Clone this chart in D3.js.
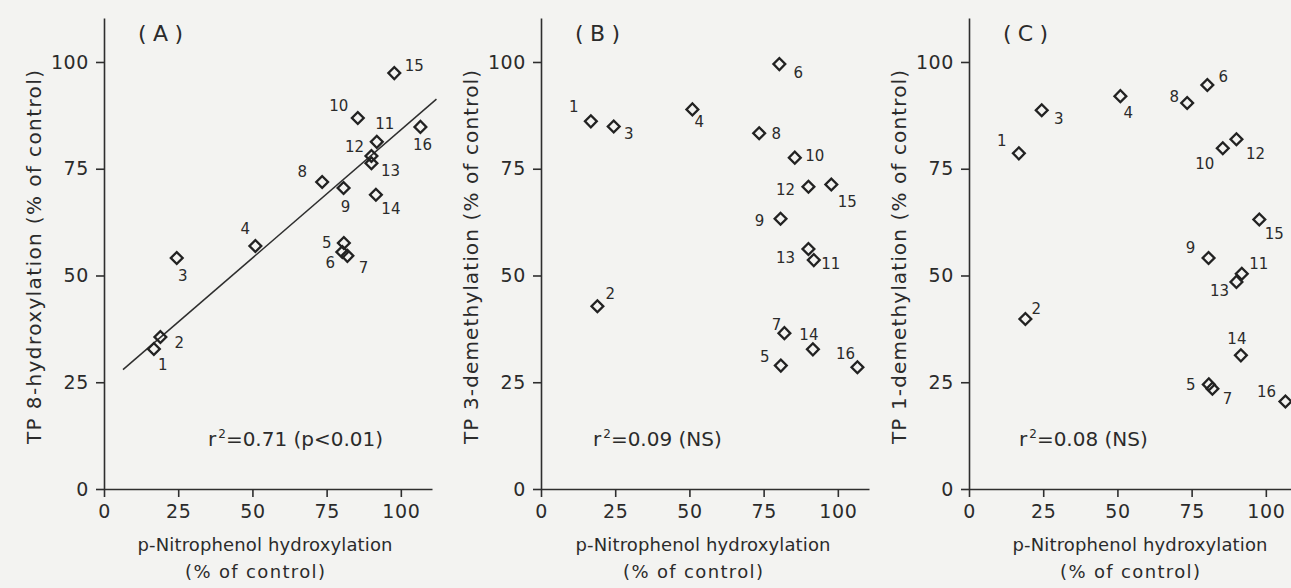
<!DOCTYPE html>
<html>
<head>
<meta charset="utf-8">
<script src="https://cdn.jsdelivr.net/npm/d3@7"></script>
<style>
  body { margin: 0; background: #f3f3f1; }
  svg text { font-family: "DejaVu Sans", sans-serif; fill: #2b2b2b; }
  .axis path, .axis line { stroke: #2e2e2e; stroke-width: 1.6; }
</style>
</head>
<body>
<svg id="chart" width="1291" height="588"></svg>
<script>
// compound numbers 1..16
var compounds = ["1","2","3","4","5","6","7","8","9","10","11","12","13","14","15","16"];

// p-Nitrophenol hydroxylation (% of control), shared x of all panels
var pnpHydroxylation = [16.8, 19.0, 24.5, 51.0, 80.8, 80.3, 82.0, 73.5, 80.7, 85.5, 91.9, 90.1, 90.1, 91.6, 97.8, 106.6];

// TP metabolism (% of control)
var tp8Hydroxylation = [32.8, 35.6, 54.1, 56.9, 57.6, 55.5, 54.6, 71.9, 70.5, 86.9, 81.3, 78.0, 76.3, 68.9, 97.4, 84.8];
var tp3Demethylation = [86.1, 42.8, 84.9, 88.9, 28.9, 99.5, 36.5, 83.3, 63.3, 77.6, 53.6, 70.8, 56.2, 32.7, 71.3, 28.5];
var tp1Demethylation = [78.6, 39.8, 88.7, 92.0, 24.5, 94.6, 23.5, 90.4, 54.1, 79.8, 50.4, 81.9, 48.5, 31.3, 63.1, 20.5];

var xTicks = [0, 25, 50, 75, 100];
var yTicks = [0, 25, 50, 75, 100];

var panelLetters = ["(A)", "(B)", "(C)"];
var yTitles = ["TP 8-hydroxylation (% of control)", "TP 3-demethylation (% of control)", "TP 1-demethylation (% of control)"];
var xTitle = ["p-Nitrophenol hydroxylation", "(% of control)"];
var rSquared = ["0.71", "0.09", "0.08"];
var significance = ["(p<0.01)", "(NS)", "(NS)"];

// regression line of panel A
var fitA = { intercept: 24.1, slope: 0.60, from: 6.4, to: 112 };

// where each point number sits relative to its marker (px)
var labelOffsets = [
  [[9,16],[19,6],[6,18],[-10,-17],[-17,0],[-12,11],[16,12],[-20,-10],[2,19],[-19,-12],[8,-18],[-17,-9],[19,7],[15,14],[20,-7],[2,18]],
  [[-17,-15],[13,-13],[15,7],[7,12],[-16,-9],[19,8],[-8,-9],[17,0],[-21,2],[20,-2],[17,3],[-23,3],[-23,9],[-4,-15],[16,17],[-12,-14]],
  [[-17,-13],[11,-10],[17,8],[8,16],[-18,0],[16,-8],[15,10],[-13,-6],[-18,-10],[-18,15],[17,-10],[19,14],[-17,9],[-4,-17],[15,14],[-19,-10]]
];

var panels = [
  { x0: 104, values: tp8Hydroxylation, fit: fitA, titleOff: 161, rx: 104 },
  { x0: 541, values: tp3Demethylation, fit: null, titleOff: 162, rx: 52 },
  { x0: 969, values: tp1Demethylation, fit: null, titleOff: 171, rx: 50 }
];

var svg = d3.select("#chart");
var y = d3.scaleLinear().domain([0, 110.3]).range([489, 18]);

var diamond = d3.symbol().type(d3.symbolSquare).size(70);

panels.forEach(function(p, i) {
  var x = d3.scaleLinear().domain([0, 110.5]).range([p.x0, p.x0 + 328]);
  var g = svg.append("g");

  // axes
  var xa = g.append("g").attr("class", "axis")
    .attr("transform", "translate(0," + y(0) + ")")
    .call(d3.axisBottom(x).tickValues(xTicks).tickSize(8).tickPadding(8).tickSizeOuter(0));
  var ya = g.append("g").attr("class", "axis")
    .attr("transform", "translate(" + p.x0 + ",0)")
    .call(d3.axisLeft(y).tickValues(yTicks).tickSize(8).tickPadding(7).tickSizeOuter(0));
  [xa, ya].forEach(function(a) {
    a.attr("font-size", null).attr("font-family", null);
    a.selectAll("text").style("font-size", "19px").style("letter-spacing", "0.6px").attr("fill", null);
    a.selectAll("line,path").attr("stroke", null);
  });

  // regression line
  if (p.fit) {
    var f = p.fit;
    g.append("path")
      .datum([f.from, f.to])
      .attr("fill", "none").attr("stroke", "#2e2e2e").attr("stroke-width", 1.5)
      .attr("d", d3.line().x(function(d) { return x(d); }).y(function(d) { return y(f.intercept + f.slope * d); }));
  }

  // markers
  var pts = compounds.map(function(c, k) { return { id: c, x: pnpHydroxylation[k], y: p.values[k], off: labelOffsets[i][k] }; });
  g.selectAll(".pt").data(pts).enter().append("path")
    .attr("class", "pt")
    .attr("d", diamond)
    .attr("fill", "none").attr("stroke", "#222").attr("stroke-width", 2.3)
    .attr("transform", function(d) { return "translate(" + x(d.x) + "," + y(d.y) + ") rotate(45)"; });

  g.selectAll(".lbl").data(pts).enter().append("text")
    .attr("class", "lbl")
    .attr("x", function(d) { return x(d.x) + d.off[0]; })
    .attr("y", function(d) { return y(d.y) + d.off[1]; })
    .attr("dy", "0.36em").attr("text-anchor", "middle")
    .style("font-size", "15px")
    .text(function(d) { return d.id; });

  // panel letter
  g.append("text")
    .attr("x", p.x0 + 34).attr("y", 33).attr("dy", "0.36em")
    .attr("textLength", 45).attr("lengthAdjust", "spacing")
    .style("font-size", "22px")
    .text(panelLetters[i]);

  // r squared
  var r = g.append("text").attr("x", p.x0 + p.rx).attr("y", 439).attr("dy", "0.36em").style("font-size", "20px");
  r.append("tspan").text("r");
  r.append("tspan").attr("dx", 2).attr("dy", -8).style("font-size", "12px").text("2");
  r.append("tspan").attr("dy", 8).text("=" + rSquared[i] + " " + significance[i]);

  // axis titles
  g.append("text")
    .attr("transform", "translate(" + (p.x0 - 70) + ",257) rotate(-90)")
    .attr("dy", "0.36em").attr("text-anchor", "middle")
    .attr("textLength", 374).attr("lengthAdjust", "spacing")
    .style("font-size", "20px")
    .text(yTitles[i]);

  g.append("text")
    .attr("x", p.x0 + p.titleOff).attr("y", 545).attr("dy", "0.36em").attr("text-anchor", "middle")
    .attr("textLength", 255).attr("lengthAdjust", "spacing")
    .style("font-size", "18px")
    .text(xTitle[0]);
  g.append("text")
    .attr("x", p.x0 + p.titleOff - 10).attr("y", 572).attr("dy", "0.36em").attr("text-anchor", "middle")
    .attr("textLength", 140).attr("lengthAdjust", "spacing")
    .style("font-size", "18px")
    .text(xTitle[1]);
});
</script>
</body>
</html>
